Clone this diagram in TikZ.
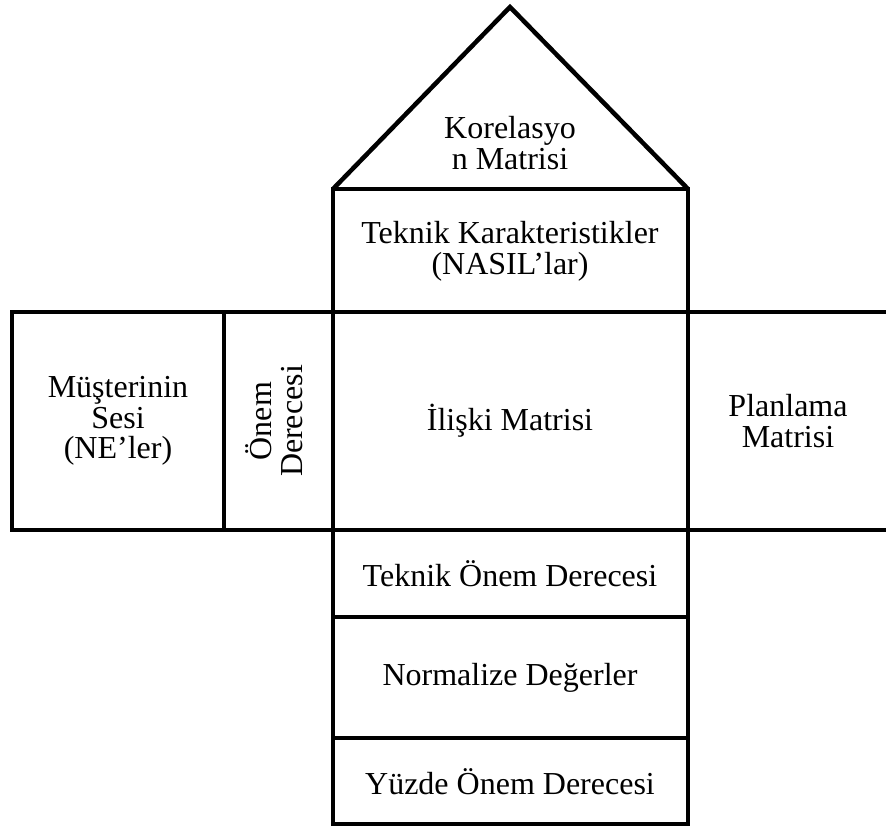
\documentclass[tikz,border=0pt]{standalone}
\usepackage{fontspec}
\setmainfont{Liberation Serif}
\usetikzlibrary{positioning}

\tikzset{
  kutu/.style={line width=1.7pt, line join=miter},
  yazi/.style={align=center, inner sep=0pt, font=\fontsize{12}{11.5}\selectfont}
}

\begin{document}
\begin{tikzpicture}[x=0.375pt, y=-0.375pt]
  \useasboundingbox (0,0) rectangle (886,830);

  % Cati
  \draw[kutu] (333,189) -- (510,7) -- (688,189);
  \node[yazi] (korelasyon) at (510,143) {Korelasyo\\n Matrisi};

  % Teknik karakteristikler
  \draw[kutu] (333,189) rectangle (688,312);
  \node[yazi] (nasil) at (510,251) {Teknik Karakteristikler\\(NASIL'lar)};

  % Orta sira
  \draw[kutu] (886,312) -- (12,312) -- (12,530) -- (886,530);
  \draw[kutu] (224,312) -- (224,530);
  \draw[kutu] (333,312) -- (333,530);
  \draw[kutu] (688,312) -- (688,530);
  \node[yazi] (musteri) at (118,421) {Müşterinin\\Sesi\\(NE'ler)};
  \node[yazi, rotate=90] (onem) at (274,421) {Önem\\Derecesi};
  \node[yazi] (iliski) at (510,421) {İlişki Matrisi};
  \node[yazi] (planlama) at (788,421) {Planlama\\Matrisi};

  % Alt kisim
  \draw[kutu] (333,530) rectangle (688,824);
  \draw[kutu] (333,617) -- (688,617);
  \draw[kutu] (333,738) -- (688,738);
  \node[yazi] (teknikonem) at (510,574) {Teknik Önem Derecesi};
  \node[yazi] (normalize) at (510,678) {Normalize Değerler};
  \node[yazi] (yuzde) at (510,782) {Yüzde Önem Derecesi};
\end{tikzpicture}
\end{document}
